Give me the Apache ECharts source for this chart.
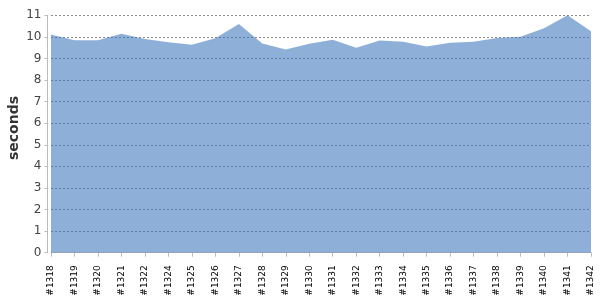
<!DOCTYPE html>
<html><head><meta charset="utf-8">
<script src="https://cdn.jsdelivr.net/npm/echarts@6/dist/echarts.min.js"></script>
<style>html,body{margin:0;padding:0;background:#fff}#c{width:600px;height:300px}</style>
</head><body><div id="c"></div>
<script>
const categories = ['#1318','#1319','#1320','#1321','#1322','#1324','#1325','#1326','#1327','#1328','#1329','#1330','#1331','#1332','#1333','#1334','#1335','#1336','#1337','#1338','#1339','#1340','#1341','#1342'];
const seconds = [10.11,9.84,9.84,10.15,9.9,9.75,9.64,9.94,10.6,9.69,9.42,9.68,9.87,9.5,9.83,9.78,9.55,9.73,9.77,9.95,10.01,10.4,11.0,10.26];
const yMin = 0, yMax = 11, yStep = 1;

const chart = echarts.init(document.getElementById('c'), null, {renderer:'canvas'});
chart.setOption({
  animation:false,
  backgroundColor:'#fff',
  grid:{left:51, right:9, top:15.3, bottom:47.3, containLabel:false, outerBoundsMode:'none'},
  xAxis:{
    type:'category', data:categories, boundaryGap:false, offset:4.5,
    axisLine:{show:true, lineStyle:{color:'#bbb', width:1}},
    axisTick:{show:true, length:4, alignWithLabel:true, interval:0, lineStyle:{color:'#bbb'}},
    axisLabel:{rotate:90, interval:0, margin:8, fontSize:9, color:'#000', fontFamily:'DejaVu Sans'},
    splitLine:{show:false}
  },
  yAxis:{
    type:'value', min:yMin, max:yMax, interval:yStep, offset:3.5,
    name:'seconds', nameLocation:'middle', nameGap:26, nameMoveOverlap:false,
    nameTextStyle:{fontSize:14, fontWeight:'bold', color:'#333', fontFamily:'DejaVu Sans', padding:[0,0,0,12]},
    axisLine:{show:true, lineStyle:{color:'#bbb', width:1}},
    axisTick:{show:true, length:3, lineStyle:{color:'#bbb'}},
    axisLabel:{fontSize:12, color:'#444', margin:6, fontFamily:'DejaVu Sans'},
    splitLine:{show:true, lineStyle:{color:'#8a8a8a', type:[2,2], width:1}}
  },
  series:[{
    type:'line', data:seconds, showSymbol:false, symbol:'none',
    lineStyle:{width:0},
    areaStyle:{color:'rgba(60,118,188,0.58)', opacity:1},
    itemStyle:{color:'rgba(60,118,188,0.58)'}
  }]
});
</script>
</body></html>
